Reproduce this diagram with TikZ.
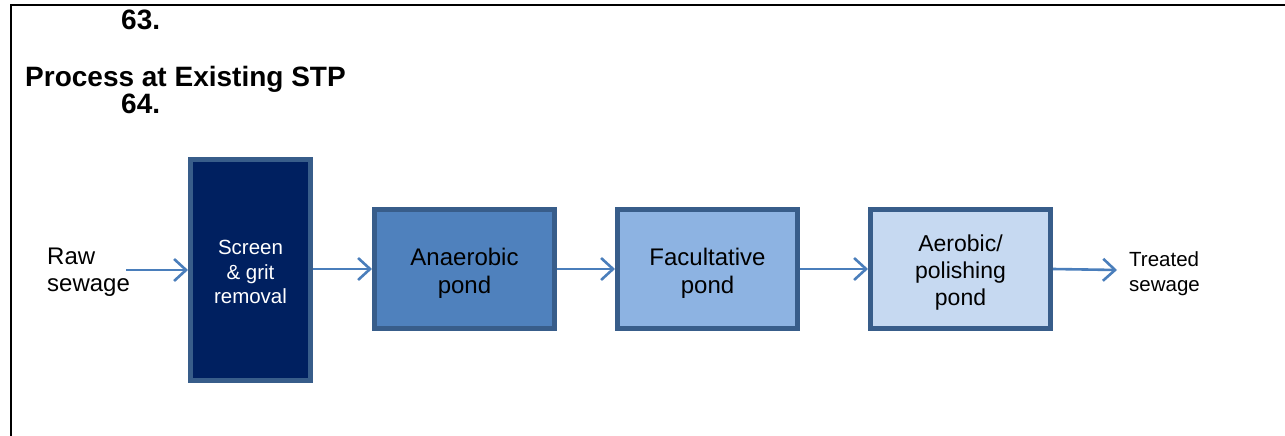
\documentclass[tikz,border=0pt]{standalone}
\usepackage{fontspec}
\setmainfont{Liberation Sans}
\usetikzlibrary{arrows.meta}
\definecolor{edge}{HTML}{385D8A}
\definecolor{arrowc}{HTML}{4A7EBB}
\definecolor{navy}{HTML}{002060}
\definecolor{anaer}{HTML}{4F81BD}
\definecolor{facul}{HTML}{8DB3E2}
\definecolor{aerob}{HTML}{C6D9F1}
\newcommand{\topstrut}[1]{\rule{0pt}{#1}}
\tikzset{
  pbox/.style={draw=edge, line width=5pt, rectangle, align=center, inner sep=0pt},
  flow/.style={draw=arrowc, line width=2.6pt, -{Straight Barb[length=12pt,width=22pt]}},
  lbl/.style={align=left, inner sep=0pt, font=\fontsize{24}{27}\selectfont},
  head/.style={inner sep=0pt, font=\fontsize{28}{30}\selectfont\bfseries}
}
\begin{document}
\begin{tikzpicture}[x=1pt,y=-1pt]
\useasboundingbox (0,0) rectangle (1285,436);
\draw[line width=2.5pt] (11,436) -- (11,5) -- (1285,5);
\node[head, anchor=base west] (n63) at (121,30) {63.};
\node[head, anchor=base west] (title) at (25,87) {Process at Existing STP};
\node[head, anchor=base west] (n64) at (121,113) {64.};
\node[pbox, fill=navy, text=white, minimum width=120pt, minimum height=221pt,
  font=\fontsize{20.5}{24.5}\selectfont] (screen) at (250.5,270) {\topstrut{19pt}Screen\\ \& grit\\ removal};
\node[pbox, fill=anaer, minimum width=180pt, minimum height=119pt,
  font=\fontsize{24}{28}\selectfont] (anaer) at (464.5,269) {\topstrut{25pt}Anaerobic\\ pond};
\node[pbox, fill=facul, minimum width=180pt, minimum height=119pt,
  font=\fontsize{24}{28}\selectfont] (facul) at (707.5,269) {\topstrut{25pt}Facultative\\ pond};
\node[pbox, fill=aerob, minimum width=180pt, minimum height=119pt,
  font=\fontsize{23}{27}\selectfont] (aerob) at (960.5,269) {\topstrut{24pt}Aerobic/\\ polishing\\ pond};
\node[lbl, anchor=west] (raw) at (47,272) {Raw\\ sewage};
\node[lbl, anchor=west, font=\fontsize{20.5}{25}\selectfont] (treated) at (1129,274) {Treated\\ sewage};
\coordinate (rawend) at (126,270);
\coordinate (outend) at (1117,270);
\draw[flow] (rawend) -- (rawend -| screen.west);
\draw[flow] (screen.east |- anaer.west) -- (anaer.west);
\draw[flow] (anaer.east) -- (facul.west);
\draw[flow] (facul.east) -- (aerob.west);
\draw[flow] (aerob.east) -- (outend);
\end{tikzpicture}
\end{document}
